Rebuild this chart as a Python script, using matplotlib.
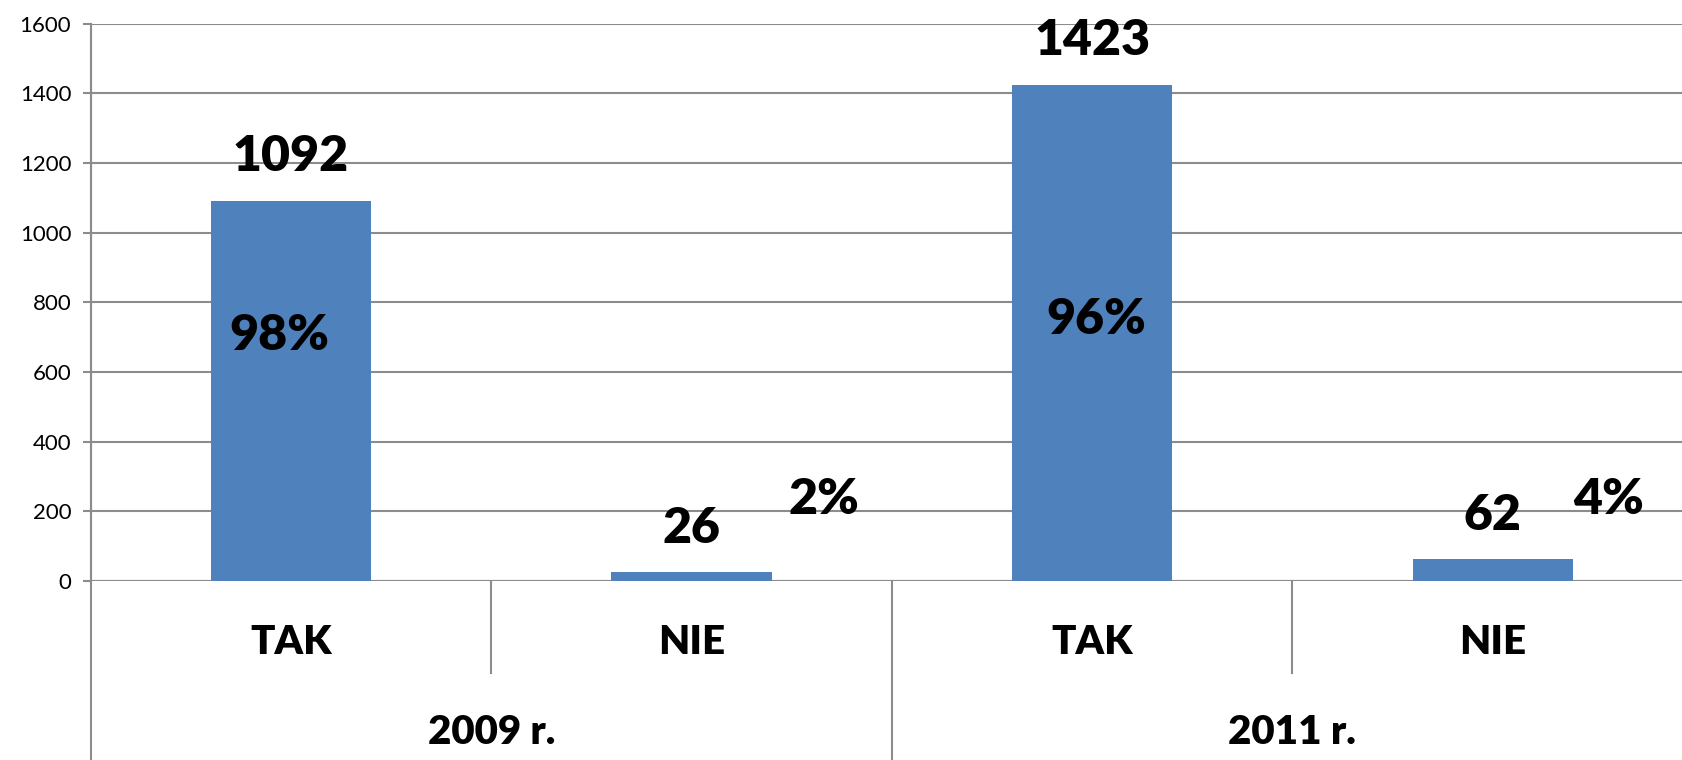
import numpy as np
import matplotlib.pyplot as plt
from matplotlib.lines import Line2D

plt.rcParams['font.family'] = ['Lato', 'DejaVu Sans']

answers = ['TAK', 'NIE', 'TAK', 'NIE']
years = ['2009 r.', '2011 r.']
counts = [1092, 26, 1423, 62]
shares = ['98%', '2%', '96%', '4%']
# where the percentage labels sit (category offset, value)
share_pos = [(-0.03, 706), (0.33, 233), (0.01, 752), (0.29, 235)]
count_y = [1220, 152, 1553, 189]

W, H = 1682, 760
fig = plt.figure(figsize=(W / 100, H / 100), dpi=100)
left = 90.7 / W
bottom = (H - 581) / H
top = (H - 23.7) / H
ax = fig.add_axes([left, bottom, (1693 - 90.7) / W, top - bottom])

x = np.arange(len(counts))
ax.bar(x, counts, width=0.4, color='#4F81BD', zorder=3)
ax.set_xlim(-0.5, 3.5)
ax.set_ylim(0, 1600)
ax.set_yticks(np.arange(0, 1601, 200))
ax.yaxis.grid(True, color='#8c8c8c', linewidth=1.5, zorder=0)
ax.tick_params(axis='y', length=6, width=1.5, color='#8c8c8c', labelsize=16, pad=8)
ax.set_xticks([])
for s in ['top', 'right', 'bottom']:
    ax.spines[s].set_visible(False)
ax.spines['left'].set_color('#8c8c8c')
ax.spines['left'].set_linewidth(1.5)

for i in x:
    ax.text(i, count_y[i], str(counts[i]), ha='center', va='center',
            fontsize=36, fontweight='heavy', zorder=4)
    dx, yv = share_pos[i]
    ax.text(i + dx, yv, shares[i], ha='center', va='center',
            fontsize=36, fontweight='heavy', zorder=4)

# category axis below the plot (pixel rows converted to axes fraction)
trans = ax.get_xaxis_transform()
pxy = lambda yp: (yp - 581) / (23.7 - 581)
lc = '#8c8c8c'
ax.add_line(Line2D([-0.5, -0.5], [1, pxy(760)], transform=trans, color=lc, lw=1.5, clip_on=False))
for xs, yb in [(0.5, 673), (1.5, 760), (2.5, 673)]:
    ax.add_line(Line2D([xs, xs], [0, pxy(yb)], transform=trans, color=lc, lw=1.5, clip_on=False))
ax.axhline(0, color=lc, lw=1.5, zorder=2)

for i in x:
    ax.text(i, pxy(643), answers[i], transform=trans, ha='center', va='center',
            fontsize=29, fontweight='heavy')
for j, yr in enumerate(years):
    ax.text(0.5 + 2 * j, pxy(733), yr, transform=trans, ha='center', va='center',
            fontsize=29, fontweight='heavy')

fig.savefig('out.png', dpi=100)
